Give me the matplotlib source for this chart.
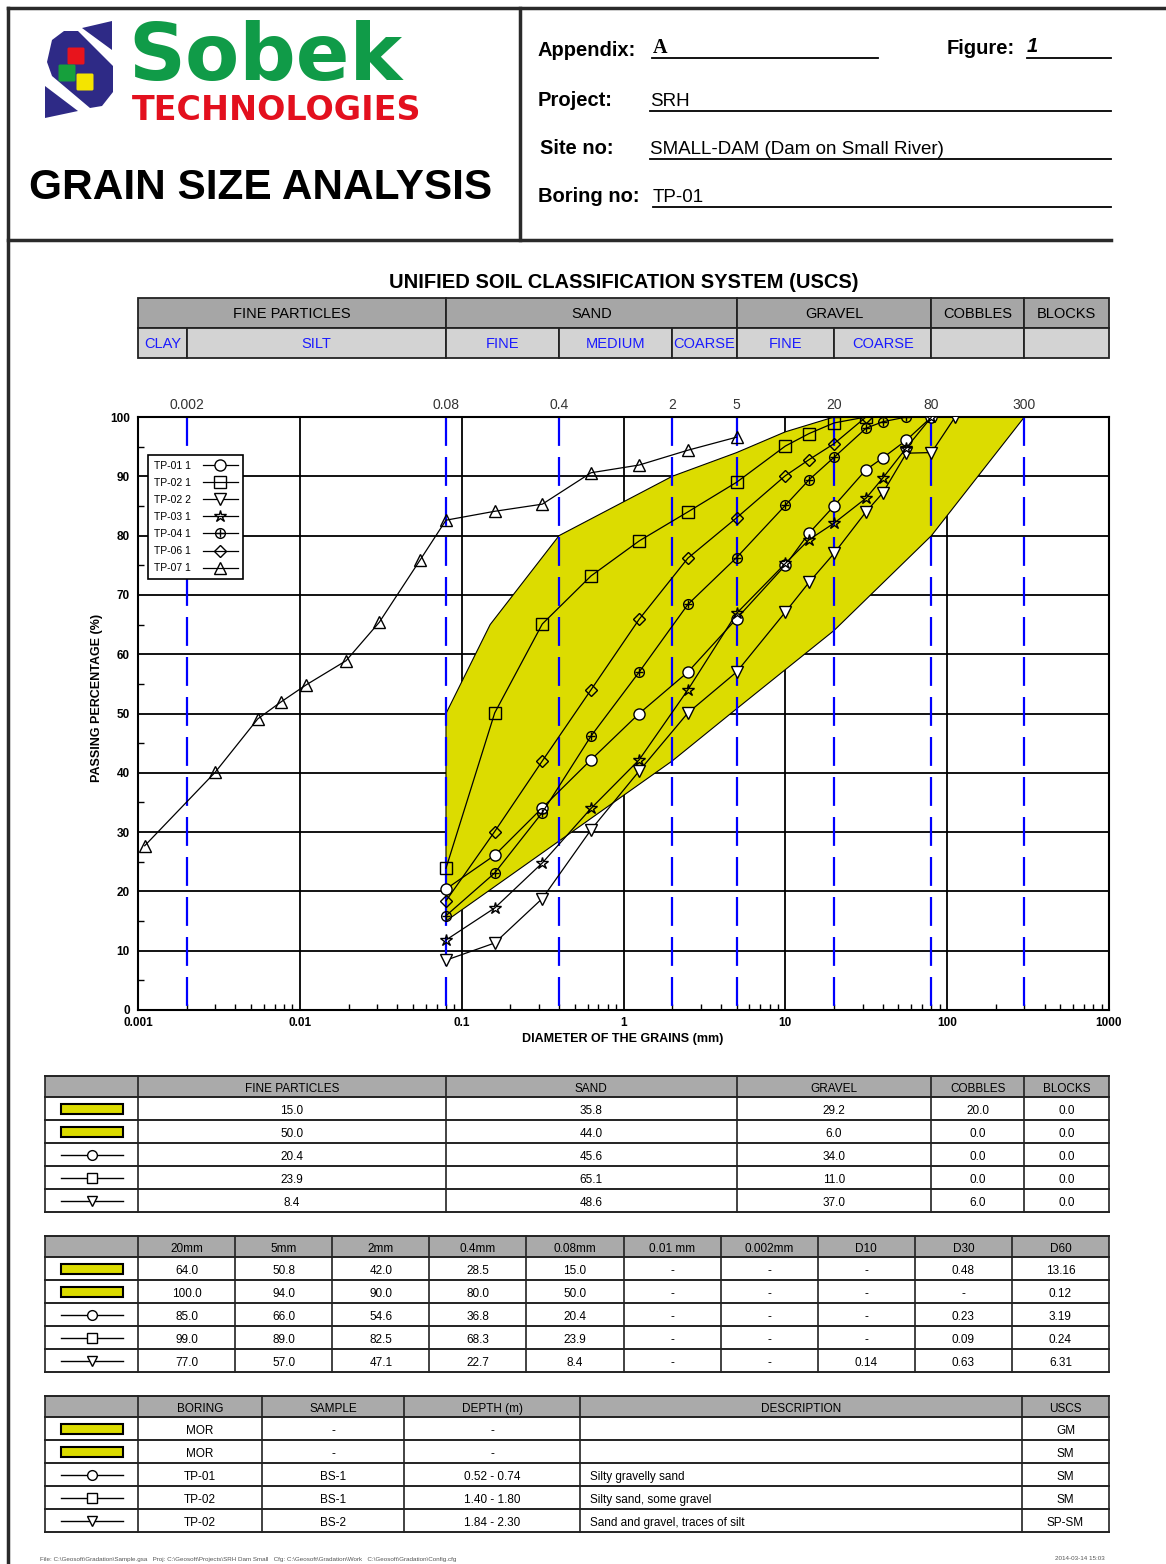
import numpy as np
import matplotlib
matplotlib.use("Agg")
import matplotlib.pyplot as plt
from matplotlib.patches import Rectangle, Polygon, FancyBboxPatch
from matplotlib.ticker import NullFormatter, LogLocator

plt.rcParams['font.family'] = ['Liberation Sans', 'DejaVu Sans']

W, H = 1166, 1564

# grain size curves: diameter (mm) and % passing
tp01_d = [0.08, 0.16, 0.315, 0.63, 1.25, 2.5, 5, 10, 14, 20, 31.5, 40, 56, 80]
tp01_p = [20.4, 26.1, 34.1, 42.2, 50.0, 57.0, 66.0, 75.0, 80.4, 85.0, 91.1, 93.1, 96.1, 100]

tp02a_d = [0.08, 0.16, 0.315, 0.63, 1.25, 2.5, 5, 10, 14, 20, 31.5]
tp02a_p = [23.9, 50.1, 65.1, 73.2, 79.1, 84.0, 89.0, 95.1, 97.2, 99.0, 100]

tp02b_d = [0.08, 0.16, 0.315, 0.63, 1.25, 2.5, 5, 10, 14, 20, 31.5, 40, 56, 80, 112]
tp02b_p = [8.4, 11.3, 18.8, 30.4, 40.3, 50.1, 57.0, 67.1, 72.1, 77.0, 84.0, 87.2, 93.9, 94.0, 100]

tp03_d = [0.08, 0.16, 0.315, 0.63, 1.25, 2.5, 5, 10, 14, 20, 31.5, 40, 56, 80]
tp03_p = [11.8, 17.2, 24.8, 34.0, 42.2, 54.0, 66.9, 75.3, 79.3, 82.1, 86.3, 89.7, 94.8, 100]

tp04_d = [0.08, 0.16, 0.315, 0.63, 1.25, 2.5, 5, 10, 14, 20, 31.5, 40, 56]
tp04_p = [15.9, 23.1, 33.3, 46.2, 57.0, 68.4, 76.3, 85.1, 89.4, 93.2, 98.1, 99.2, 100]

tp06_d = [0.08, 0.16, 0.315, 0.63, 1.25, 2.5, 5, 10, 14, 20, 31.5]
tp06_p = [18.4, 30.1, 42.0, 54.0, 65.9, 76.2, 83.0, 90.1, 92.8, 95.5, 100]

tp07_d = [0.0011, 0.003, 0.0055, 0.0076, 0.0109, 0.0193, 0.031, 0.0554, 0.08, 0.16, 0.315, 0.63, 1.25, 2.5, 5]
tp07_p = [27.7, 40.1, 49.1, 51.9, 54.8, 58.9, 65.4, 75.9, 82.6, 84.1, 85.3, 90.6, 91.9, 94.4, 96.6]

# yellow envelope (MOR limits)
band_hi_d = [0.08, 0.15, 0.4, 2, 5, 10, 20, 300]
band_hi_p = [50.0, 65.0, 80.0, 90.0, 94.0, 97.5, 100.0, 100.0]
band_lo_d = [0.08, 0.4, 2, 5, 20, 80, 300]
band_lo_p = [15.0, 28.5, 42.0, 50.8, 64.0, 80.0, 100.0]

# USCS limits
limit_d = [0.002, 0.08, 0.4, 2, 5, 20, 80, 300]
limit_lab = ['0.002', '0.08', '0.4', '2', '5', '20', '80', '300']
uscs_main = ['FINE PARTICLES', 'SAND', 'GRAVEL', 'COBBLES', 'BLOCKS']
uscs_main_d = [0.001, 0.08, 5, 80, 300, 1000]
uscs_sub = ['CLAY', 'SILT', 'FINE', 'MEDIUM', 'COARSE', 'FINE', 'COARSE', '', '']
uscs_sub_d = [0.001, 0.002, 0.08, 0.4, 2, 5, 20, 80, 300, 1000]

# tables
row_symbols = ['band', 'band', 'o', 's', 'v']
frac_rows = [['15.0', '35.8', '29.2', '20.0', '0.0'],
             ['50.0', '44.0', '6.0', '0.0', '0.0'],
             ['20.4', '45.6', '34.0', '0.0', '0.0'],
             ['23.9', '65.1', '11.0', '0.0', '0.0'],
             ['8.4', '48.6', '37.0', '6.0', '0.0']]
pass_head = ['20mm', '5mm', '2mm', '0.4mm', '0.08mm', '0.01 mm', '0.002mm', 'D10', 'D30', 'D60']
pass_rows = [['64.0', '50.8', '42.0', '28.5', '15.0', '-', '-', '-', '0.48', '13.16'],
             ['100.0', '94.0', '90.0', '80.0', '50.0', '-', '-', '-', '-', '0.12'],
             ['85.0', '66.0', '54.6', '36.8', '20.4', '-', '-', '-', '0.23', '3.19'],
             ['99.0', '89.0', '82.5', '68.3', '23.9', '-', '-', '-', '0.09', '0.24'],
             ['77.0', '57.0', '47.1', '22.7', '8.4', '-', '-', '0.14', '0.63', '6.31']]
desc_head = ['BORING', 'SAMPLE', 'DEPTH (m)', 'DESCRIPTION', 'USCS']
desc_rows = [['MOR', '-', '-', '', 'GM'],
             ['MOR', '-', '-', '', 'SM'],
             ['TP-01', 'BS-1', '0.52 - 0.74', 'Silty gravelly sand', 'SM'],
             ['TP-02', 'BS-1', '1.40 - 1.80', 'Silty sand, some gravel', 'SM'],
             ['TP-02', 'BS-2', '1.84 - 2.30', 'Sand and gravel, traces of silt', 'SP-SM']]

YELLOW = '#dcdc00'
LINE = '#222222'

fig = plt.figure(figsize=(W / 100, H / 100), dpi=100)
page = fig.add_axes([0, 0, 1, 1])
page.set_xlim(0, W)
page.set_ylim(H, 0)
page.axis('off')

# ---------- chart ----------
ax = fig.add_axes([138 / W, 1 - 1010 / H, (1109 - 138) / W, (1010 - 417) / H])
ax.set_xscale('log')
ax.set_xlim(1e-3, 1e3)
ax.set_ylim(0, 100)
ax.set_axisbelow(True)
ax.grid(which='major', color='black', lw=1.3)
ax.set_xticks([1e-3, 1e-2, 1e-1, 1, 10, 100, 1000])
ax.set_xticklabels(['0.001', '0.01', '0.1', '1', '10', '100', '1000'])
ax.xaxis.set_minor_locator(LogLocator(base=10, subs=np.arange(2, 10)))
ax.xaxis.set_minor_formatter(NullFormatter())
ax.set_yticks(range(0, 101, 10))
ax.set_yticks(range(5, 100, 10), minor=True)
ax.tick_params(which='minor', direction='in', length=4, width=1)
ax.tick_params(which='major', length=0, labelsize=8.5)
ax.tick_params(axis='x', which='major', pad=5)
ax.tick_params(axis='y', which='major', pad=6)
for lab in ax.get_xticklabels() + ax.get_yticklabels():
    lab.set_fontweight('bold')
for s in ax.spines.values():
    s.set_linewidth(1.5)

ax.fill(band_hi_d + band_lo_d[::-1], band_hi_p + band_lo_p[::-1],
        facecolor=YELLOW, edgecolor='black', lw=0.8, zorder=1)

for d, lab in zip(limit_d, limit_lab):
    ax.plot([d, d], [100, 0], color='#0000ff', lw=1.6, dashes=(13, 5), zorder=2)
    ax.text(d, 102, lab, ha='center', va='center', fontsize=10, color='#333333', clip_on=False)

kw = dict(color='black', lw=0.9, ms=8, mec='black', mew=1, zorder=3)
l01, = ax.plot(tp01_d, tp01_p, marker='o', mfc='white', **kw)
l02a, = ax.plot(tp02a_d, tp02a_p, marker='s', mfc='none', **kw)
l02b, = ax.plot(tp02b_d, tp02b_p, marker='v', mfc='white', **kw)
l03, = ax.plot(tp03_d, tp03_p, marker='*', mfc='none', **dict(kw, ms=9))
l04, = ax.plot(tp04_d, tp04_p, marker='o', mfc='none', **dict(kw, ms=7))
l04p, = ax.plot(tp04_d, tp04_p, marker='+', ls='none', ms=6, mec='black', mew=1, zorder=3)
l06, = ax.plot(tp06_d, tp06_p, marker='D', mfc='none', **dict(kw, ms=6.5))
l07, = ax.plot(tp07_d, tp07_p, marker='^', mfc='none', **kw)

leg = ax.legend([l01, l02a, l02b, l03, (l04, l04p), l06, l07],
                ['TP-01 1', 'TP-02 1', 'TP-02 2', 'TP-03 1', 'TP-04 1', 'TP-06 1', 'TP-07 1'],
                loc='upper left', bbox_to_anchor=(10 / 971, (1010 - 455) / 593), borderaxespad=0,
                fancybox=False, edgecolor='black', framealpha=1, fontsize=7.5, markerfirst=False,
                handlelength=3.3, handletextpad=1.2, labelspacing=0.68, borderpad=0.55, numpoints=1)
leg.get_frame().set_linewidth(1.2)

page.text(623, 1039, 'DIAMETER OF THE GRAINS (mm)', ha='center', va='center', fontsize=9, weight='bold')
page.text(97, 698, 'PASSING PERCENTAGE (%)', ha='center', va='center', fontsize=9, weight='bold', rotation=90)


def xpx(d):
    return ax.transData.transform((d, 50))[0]


# ---------- USCS band table ----------
page.text(624, 282, 'UNIFIED SOIL CLASSIFICATION SYSTEM (USCS)', ha='center', va='center', fontsize=14.5, weight='bold')
for labs, dd, y0, fc, col in [(uscs_main, uscs_main_d, 298, '#a6a6a6', 'black'),
                              (uscs_sub, uscs_sub_d, 328, '#d3d3d3', '#1a1aff')]:
    for i, lab in enumerate(labs):
        x0, x1 = xpx(dd[i]), xpx(dd[i + 1])
        page.add_patch(Rectangle((x0, y0), x1 - x0, 30, facecolor=fc, edgecolor=LINE, lw=1.3))
        page.text((x0 + x1) / 2, y0 + 15, lab, ha='center', va='center_baseline', fontsize=10.5, color=col)


# ---------- bottom tables ----------
def draw_symbol(kind, x0, x1, yc):
    xm = (x0 + x1) / 2
    if kind == 'band':
        page.add_patch(Rectangle((xm - 31, yc - 5), 62, 10, facecolor=YELLOW, edgecolor='black', lw=1.5))
    else:
        page.plot([xm - 31, xm + 31], [yc, yc], color='black', lw=1)
        page.plot([xm], [yc], marker=kind, ms=7, mfc='white', mec='black', mew=1)


def draw_table(top, edges, header, rows, left_cols=(), head_h=21, row_h=23):
    n = len(rows)
    bottom = top + head_h + n * row_h
    page.add_patch(Rectangle((edges[0], top), edges[-1] - edges[0], head_h, facecolor='#aaaaaa', edgecolor='none'))
    ys = [top, top + head_h] + [top + head_h + (i + 1) * row_h for i in range(n)]
    for y in ys:
        page.plot([edges[0], edges[-1]], [y, y], color=LINE, lw=1.4)
    for x in edges:
        page.plot([x, x], [top, bottom], color=LINE, lw=1.2)
    for j, h in enumerate(header):
        page.text((edges[j + 1] + edges[j + 2]) / 2, top + head_h / 2 + 1, h,
                  ha='center', va='center_baseline', fontsize=8.5)
    for i, row in enumerate(rows):
        yc = top + head_h + (i + 0.5) * row_h
        draw_symbol(row_symbols[i], edges[0], edges[1], yc)
        for j, val in enumerate(row):
            if j in left_cols:
                page.text(edges[j + 1] + 10, yc + 1, val, ha='left', va='center_baseline', fontsize=8.5)
            else:
                page.text((edges[j + 1] + edges[j + 2]) / 2, yc + 1, val,
                          ha='center', va='center_baseline', fontsize=8.5)


edges1 = [45] + [xpx(d) for d in uscs_main_d]
draw_table(1076, edges1, uscs_main, frac_rows)
edges2 = [45] + list(np.linspace(xpx(1e-3), xpx(1e3), 11))
draw_table(1236, edges2, pass_head, pass_rows)
edges3 = [45, xpx(1e-3), 262, 404, 580, 1022, xpx(1e3)]
draw_table(1396, edges3, desc_head, desc_rows, left_cols=(3,))

# ---------- header ----------
for xs, ys in [([8, 8], [8, H]), ([8, W], [8, 8]), ([520, 520], [8, 240]), ([8, 1111], [240, 240])]:
    page.plot(xs, ys, color='#2a2a2a', lw=2.5)

navy = '#2e2a86'
page.add_patch(Polygon([(82, 28), (112, 21), (112, 50)], closed=True, fc=navy, ec='none'))
page.add_patch(Polygon([(52, 40), (64, 31), (78, 31), (113, 66), (113, 92), (102, 106), (90, 108),
                        (52, 76), (47, 62)], closed=True, fc=navy, ec='none'))
page.add_patch(Polygon([(45, 86), (45, 118), (78, 111)], closed=True, fc=navy, ec='none'))
for cx, cy, c in [(76, 56, '#e8141c'), (67, 73, '#16a03c'), (85, 82, '#f4e400')]:
    page.add_patch(FancyBboxPatch((cx - 7, cy - 7), 14, 14, boxstyle='round,pad=1.5', fc=c, ec='none'))
page.text(128, 58, 'Sobek', ha='left', va='center', fontsize=57, weight='bold', color='#109b48',
          family=['DejaVu Sans'])
page.text(132, 111, 'TECHNOLOGIES', ha='left', va='center', fontsize=24, weight='bold', color='#e3101e',
          family=['DejaVu Sans'])
page.text(29, 188, 'GRAIN SIZE ANALYSIS', ha='left', va='center', fontsize=30.5, weight='bold')

hfs = 14.5
page.text(538, 50, 'Appendix:', ha='left', va='center', fontsize=hfs, weight='bold')
page.text(653, 48, 'A', ha='left', va='center', fontsize=hfs, weight='bold', family=['Liberation Serif', 'DejaVu Serif'])
page.plot([652, 878], [58, 58], color='black', lw=1.3)
page.text(947, 49, 'Figure:', ha='left', va='center', fontsize=hfs, weight='bold')
page.text(1027, 47, '1', ha='left', va='center', fontsize=hfs, weight='bold', style='italic')
page.plot([1027, 1111], [58, 58], color='black', lw=1.3)
page.text(538, 100, 'Project:', ha='left', va='center', fontsize=hfs, weight='bold')
page.text(650, 102, 'SRH', ha='left', va='center', fontsize=13.5)
page.plot([650, 1111], [111, 111], color='black', lw=1.3)
page.text(540, 148, 'Site no:', ha='left', va='center', fontsize=hfs, weight='bold')
page.text(650, 149, 'SMALL-DAM (Dam on Small River)', ha='left', va='center', fontsize=13.5)
page.plot([650, 1111], [159, 159], color='black', lw=1.3)
page.text(538, 196, 'Boring no:', ha='left', va='center', fontsize=hfs, weight='bold')
page.text(653, 197, 'TP-01', ha='left', va='center', fontsize=13.5)
page.plot([653, 1111], [207, 207], color='black', lw=1.3)

# footer
page.text(40, 1559, r'File: C:\Geosoft\Gradation\Sample.gsa   Proj: C:\Geosoft\Projects\SRH Dam Small   '
          r'Cfg: C:\Geosoft\Gradation\Work   C:\Geosoft\Gradation\Config.cfg',
          ha='left', va='center', fontsize=4.5, color='#555555')
page.text(1105, 1559, '2014-03-14 15:03', ha='right', va='center', fontsize=4.5, color='#555555')

fig.savefig('out.png', dpi=100)
